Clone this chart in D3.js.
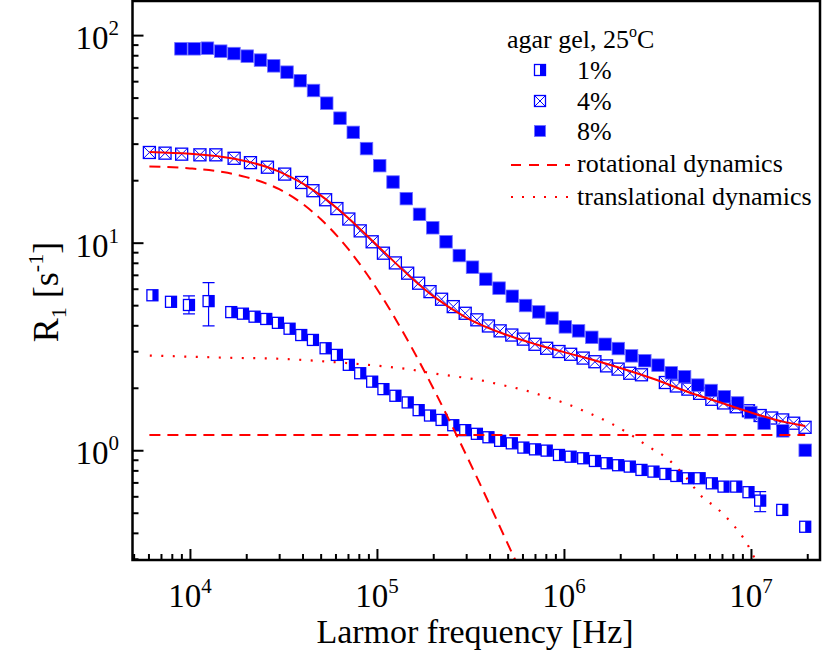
<!DOCTYPE html>
<html>
<head>
<meta charset="utf-8">
<script src="https://cdn.jsdelivr.net/npm/d3@7"></script>
<style>
  body { margin: 0; background: #fff; }
  svg { display: block; font-family: "Liberation Serif", "Times New Roman", serif; }
</style>
</head>
<body>
<div id="chart"></div>
<script>
// agar 1% (half-filled squares)
const freq1 = [6300, 7920, 9880, 12580, 16630, 19200, 22160, 25590, 29540, 34100, 39370,
  45460, 53140, 61050, 70730, 81370, 94280, 108300, 125500, 146000, 167100, 192200, 221600,
  255900, 296500, 342300, 394700, 455700, 526200, 606700, 700200, 808500, 940400, 1.086e6,
  1.267e6, 1.464e6, 1.690e6, 1.948e6, 2.249e6, 2.597e6, 3.010e6, 3.486e6, 3.992e6, 4.601e6,
  5.314e6, 6.178e6, 7.135e6, 8.340e6, 9.698e6, 1.120e7, 1.47e7, 1.95e7];
const r1 = [5.58, 5.19, 5.01, 5.23, 4.63, 4.55, 4.40, 4.29, 4.11, 3.85, 3.59,
  3.40, 3.10, 2.88, 2.58, 2.35, 2.14, 1.97, 1.83, 1.70, 1.56, 1.47, 1.40,
  1.32, 1.25, 1.20, 1.155, 1.11, 1.08, 1.03, 1.01, 0.996, 0.949, 0.931,
  0.915, 0.888, 0.866, 0.847, 0.834, 0.804, 0.789, 0.769, 0.752, 0.733,
  0.733, 0.693, 0.668, 0.668, 0.628, 0.572, 0.516, 0.428];
// error bars on the 1% series
const err1Freq = [9880, 12580, 1.120e7];
const err1Lo = [4.54, 3.97, 0.506];
const err1Hi = [5.54, 6.42, 0.632];

// agar 4% (crossed squares)
const freq4 = [6070, 7360, 9030, 11310, 13760, 17230, 21070, 25970, 32110, 39560,
  45460, 53140, 61050, 70730, 81370, 94280, 108300, 125500, 146000, 167100, 192200,
  221600, 255900, 296500, 342300, 394700, 455700, 526200, 606700, 700200, 808500,
  940400, 1.086e6, 1.267e6, 1.464e6, 1.690e6, 1.948e6, 2.249e6, 2.597e6, 3.486e6,
  3.992e6, 4.601e6, 5.314e6, 6.178e6, 7.135e6, 8.340e6, 9.698e6, 1.120e7, 1.291e7,
  1.478e7, 1.692e7, 1.947e7];
const r4 = [27.2, 27.0, 26.7, 26.5, 26.5, 25.5, 24.3, 23.1, 21.4, 19.5,
  17.8, 16.1, 14.6, 13.0, 11.4, 10.1, 8.90, 7.99, 7.13, 6.38, 5.81,
  5.34, 4.92, 4.57, 4.25, 3.97, 3.76, 3.59, 3.43, 3.24, 3.10,
  2.99, 2.90, 2.78, 2.67, 2.55, 2.46, 2.35, 2.31, 2.12,
  2.04, 1.97, 1.88, 1.76, 1.69, 1.62, 1.55, 1.47, 1.43,
  1.40, 1.35, 1.29];

// agar 8% (filled squares)
const freq8 = [8954, 10540, 12410, 14610, 17200, 20250, 23840, 28070, 33040, 38890,
  45790, 53900, 63450, 74700, 87940, 103500, 121900, 143500, 168900, 198900, 234100,
  275600, 324400, 381900, 449700, 529400, 623200, 733600, 863700, 1.017e6, 1.197e6,
  1.409e6, 1.659e6, 1.953e6, 2.299e6, 2.707e6, 3.186e6, 3.751e6, 4.417e6, 5.200e6,
  6.121e6, 7.206e6, 8.484e6, 9.986e6, 1.176e7, 1.48e7, 1.95e7];
const r8 = [85.9, 85.9, 86.5, 83.7, 81.5, 79.2, 75.8, 71.1, 66.3, 60.3,
  54.1, 47.0, 39.8, 34.0, 28.4, 23.5, 19.6, 16.3, 13.7, 11.8, 10.1,
  8.67, 7.62, 6.67, 6.04, 5.52, 4.98, 4.64, 4.33, 3.93, 3.76,
  3.50, 3.24, 3.09, 2.85, 2.70, 2.57, 2.36, 2.26, 2.06,
  1.94, 1.81, 1.69, 1.52, 1.35, 1.24, 1.00];

// model curves
const fitFreq = [6070, 1e4, 1.5e4, 2e4, 3e4, 4e4, 5e4, 7e4, 1e5, 1.5e5, 2e5, 3e5, 5e5, 7e5,
  1e6, 1.5e6, 2e6, 3e6, 5e6, 7e6, 1e7, 1.5e7, 1.95e7];
const fitR = [27.35, 26.8, 25.9, 24.7, 22.0, 19.3, 16.9, 13.2, 9.72, 6.88, 5.53, 4.36, 3.58, 3.25,
  2.97, 2.69, 2.49, 2.21, 1.86, 1.69, 1.52, 1.37, 1.31];

const rotFreq = [6070, 1e4, 1.5e4, 2e4, 3e4, 4e4, 5e4, 7e4, 8.5e4, 1e5, 1.2e5, 1.5e5, 2e5,
  2.5e5, 3e5, 4e5, 5e5, 6e5];
const rotR = [23.3, 22.8, 21.9, 20.7, 18.1, 15.4, 13.0, 9.36, 7.42, 5.98, 4.60, 3.24, 1.99,
  1.33, 0.95, 0.549, 0.355, 0.249];

const transFreq = [6100, 16340, 32780, 58120, 1.12e5, 1.552e5, 1.984e5, 2.698e5, 3.52e5,
  4.69e5, 6.12e5, 7.99e5, 1.041e6, 1.36e6, 1.775e6, 2.269e6, 2.84e6, 3.556e6, 4.458e6,
  5.465e6, 6.57e6, 7.9e6, 9.5e6, 1.057e7];
const transR = [2.86, 2.79, 2.75, 2.66, 2.53, 2.44, 2.35, 2.26, 2.18,
  2.06, 1.95, 1.81, 1.67, 1.51, 1.35, 1.19, 1.04, 0.915, 0.746,
  0.598, 0.526, 0.445, 0.356, 0.296];

const constFreq = [6070, 1.95e7];
const constR = [1.185, 1.185];

const xMajor = [1e4, 1e5, 1e6, 1e7];
const xMajorExp = ['4', '5', '6', '7'];
const yMajor = [1, 10, 100];
const yMajorExp = ['0', '1', '2'];

const legendItems = ['1%', '4%', '8%'];

const BLUE = '#0000ff';
const RED = '#ff0000';

const width = 828, height = 657;
const plotLeft = 132.5, plotRight = 820, plotTop = 1, plotBottom = 560;

const svg = d3.select('#chart').append('svg')
  .attr('width', width)
  .attr('height', height);

const x = d3.scaleLog().domain([4.93e3, 2.34e7]).range([plotLeft, plotRight]);
const y = d3.scaleLog().domain([0.296, 146]).range([plotBottom, plotTop]);

svg.append('clipPath').attr('id', 'plot')
  .append('rect')
  .attr('x', plotLeft).attr('y', plotTop)
  .attr('width', plotRight - plotLeft).attr('height', plotBottom - plotTop);

// markers
function drawHalf(g, s) {
  g.append('rect').attr('x', -s / 2).attr('y', -s / 2).attr('width', s).attr('height', s)
    .attr('fill', '#fff').attr('stroke', BLUE).attr('stroke-width', 1.3);
  g.append('rect').attr('x', 0).attr('y', -s / 2).attr('width', s / 2).attr('height', s)
    .attr('fill', BLUE);
}
function drawCross(g, s) {
  g.append('rect').attr('x', -s / 2).attr('y', -s / 2).attr('width', s).attr('height', s)
    .attr('fill', '#fff').attr('stroke', BLUE).attr('stroke-width', 1.3);
  g.append('path')
    .attr('d', `M${-s / 2},${-s / 2}L${s / 2},${s / 2}M${-s / 2},${s / 2}L${s / 2},${-s / 2}`)
    .attr('stroke', BLUE).attr('stroke-width', 1);
}
function drawFilled(g, s) {
  g.append('rect').attr('x', -s / 2).attr('y', -s / 2).attr('width', s).attr('height', s)
    .attr('fill', BLUE).attr('stroke', '#6f6fff').attr('stroke-width', 0.8);
}

const plot = svg.append('g').attr('clip-path', 'url(#plot)');

// error bars (1%)
const eb = plot.selectAll('g.err')
  .data(err1Freq.map((f, i) => ({ f, lo: err1Lo[i], hi: err1Hi[i] })))
  .join('g').attr('class', 'err')
  .attr('stroke', BLUE).attr('stroke-width', 1.2);
eb.append('line')
  .attr('x1', d => x(d.f)).attr('x2', d => x(d.f))
  .attr('y1', d => y(d.lo)).attr('y2', d => y(d.hi));
eb.append('line')
  .attr('x1', d => x(d.f) - 6).attr('x2', d => x(d.f) + 6)
  .attr('y1', d => y(d.lo)).attr('y2', d => y(d.lo));
eb.append('line')
  .attr('x1', d => x(d.f) - 6).attr('x2', d => x(d.f) + 6)
  .attr('y1', d => y(d.hi)).attr('y2', d => y(d.hi));

const series = [
  { f: freq1, r: r1, draw: drawHalf, size: 11 },
  { f: freq4, r: r4, draw: drawCross, size: 12 },
  { f: freq8, r: r8, draw: drawFilled, size: 12.5 },
];
series.forEach(s => {
  plot.append('g').selectAll('g')
    .data(s.f.map((f, i) => ({ f, r: s.r[i] })))
    .join('g')
    .attr('transform', d => `translate(${x(d.f)},${y(d.r)})`)
    .each(function () { s.draw(d3.select(this), s.size); });
});

// curves
const line = d3.line().x(d => x(d[0])).y(d => y(d[1])).curve(d3.curveMonotoneX);
const zip = (a, b) => a.map((v, i) => [v, b[i]]);

plot.append('path').attr('d', line(zip(constFreq, constR)))
  .attr('fill', 'none').attr('stroke', RED).attr('stroke-width', 2)
  .attr('stroke-dasharray', '11,7');
plot.append('path').attr('d', line(zip(rotFreq, rotR)))
  .attr('fill', 'none').attr('stroke', RED).attr('stroke-width', 2)
  .attr('stroke-dasharray', '11,7');
plot.append('path').attr('d', line(zip(transFreq, transR)))
  .attr('fill', 'none').attr('stroke', RED).attr('stroke-width', 2.2)
  .attr('stroke-dasharray', '2,9.5');
plot.append('path').attr('d', line(zip(fitFreq, fitR)))
  .attr('fill', 'none').attr('stroke', RED).attr('stroke-width', 2);

// axes (ticks point inward)
const minorX = x.ticks().filter(v => !xMajor.includes(v));
const minorY = y.ticks().filter(v => !yMajor.includes(v));

svg.append('g').attr('transform', `translate(0,${plotBottom})`)
  .call(d3.axisBottom(x).tickValues(minorX).tickSizeInner(-6).tickSizeOuter(0).tickFormat(''))
  .call(g => g.select('.domain').remove());
svg.append('g').attr('transform', `translate(0,${plotBottom})`)
  .call(d3.axisBottom(x).tickValues(xMajor).tickSizeInner(-11).tickSizeOuter(0).tickFormat(''))
  .call(g => g.select('.domain').remove());
svg.append('g').attr('transform', `translate(${plotLeft},0)`)
  .call(d3.axisLeft(y).tickValues(minorY).tickSizeInner(-6).tickSizeOuter(0).tickFormat(''))
  .call(g => g.select('.domain').remove());
svg.append('g').attr('transform', `translate(${plotLeft},0)`)
  .call(d3.axisLeft(y).tickValues(yMajor).tickSizeInner(-11).tickSizeOuter(0).tickFormat(''))
  .call(g => g.select('.domain').remove());
svg.selectAll('.tick line').attr('stroke', '#000').attr('stroke-width', 2);

// frame
svg.append('path')
  .attr('d', `M${plotLeft},${plotTop}V${plotBottom}H${plotRight}V${plotTop}Z`)
  .attr('fill', 'none').attr('stroke', '#000').attr('stroke-width', 2.5);

// tick labels with superscript exponent
xMajor.forEach((v, i) => {
  const t = svg.append('text')
    .attr('x', x(v)).attr('y', 607)
    .attr('text-anchor', 'middle')
    .attr('font-size', 33);
  t.append('tspan').text('10');
  t.append('tspan').attr('dy', -14).attr('font-size', 21).text(xMajorExp[i]);
});
yMajor.forEach((v, i) => {
  const t = svg.append('text')
    .attr('x', 119).attr('y', y(v) + 14)
    .attr('text-anchor', 'end')
    .attr('font-size', 33);
  t.append('tspan').text('10');
  t.append('tspan').attr('dy', -14).attr('font-size', 21).text(yMajorExp[i]);
});

// axis titles
svg.append('text')
  .attr('x', 475).attr('y', 643)
  .attr('text-anchor', 'middle')
  .attr('font-size', 34)
  .text('Larmor frequency [Hz]');

const yt = svg.append('text')
  .attr('transform', 'translate(58,292) rotate(-90)')
  .attr('text-anchor', 'middle')
  .attr('font-size', 36);
yt.append('tspan').text('R');
yt.append('tspan').attr('dy', 8).attr('font-size', 22).text('1');
yt.append('tspan').attr('dy', -8).text('  [s');
yt.append('tspan').attr('dy', -15).attr('font-size', 22).text('-1');
yt.append('tspan').attr('dy', 15).text(']');

// legend
const lg = svg.append('g').attr('font-size', 26);
const title = lg.append('text').attr('x', 507).attr('y', 48);
title.append('tspan').text('agar gel, 25');
title.append('tspan').attr('dy', -11).attr('font-size', 16).text('o');
title.append('tspan').attr('dy', 11).text('C');

const legDraw = [drawHalf, drawCross, drawFilled];
const legY = [70, 101, 131];
legendItems.forEach((name, i) => {
  const g = lg.append('g').attr('transform', `translate(540,${legY[i]})`);
  legDraw[i](g, 11);
  lg.append('text').attr('x', 577).attr('y', legY[i] + 9).text(name);
});

lg.append('line').attr('x1', 511).attr('x2', 570).attr('y1', 165).attr('y2', 165)
  .attr('stroke', RED).attr('stroke-width', 2).attr('stroke-dasharray', '10,8');
lg.append('text').attr('x', 577).attr('y', 172).text('rotational dynamics');
lg.append('line').attr('x1', 511).attr('x2', 570).attr('y1', 197).attr('y2', 197)
  .attr('stroke', RED).attr('stroke-width', 2.2).attr('stroke-dasharray', '2,9');
lg.append('text').attr('x', 577).attr('y', 205).text('translational dynamics');
</script>
</body>
</html>
